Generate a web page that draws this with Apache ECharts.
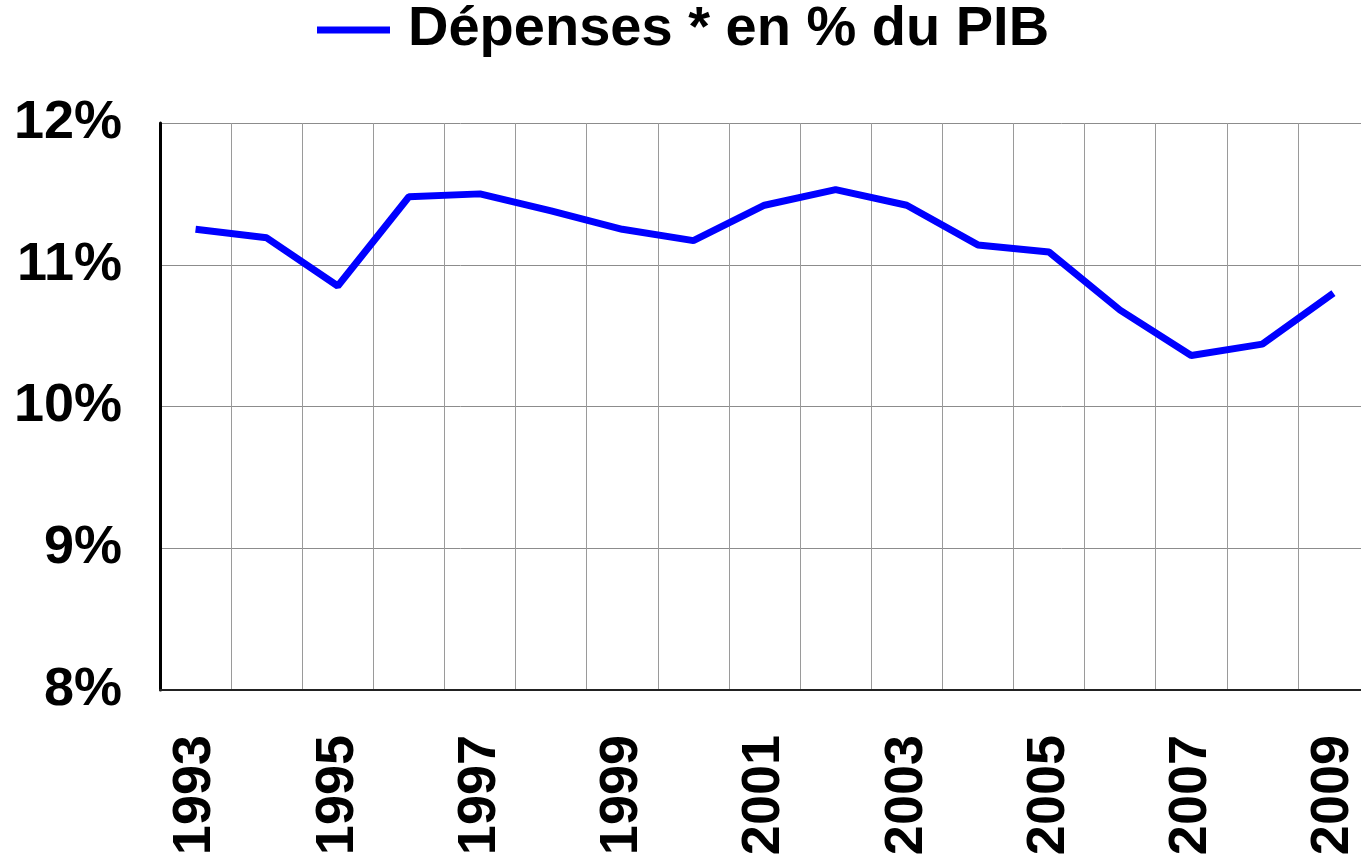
<!DOCTYPE html>
<html>
<head>
<meta charset="utf-8">
<script src="https://cdn.jsdelivr.net/npm/echarts@6/dist/echarts.min.js"></script>
<style>
html,body{margin:0;padding:0;background:#fff;}
#chart{width:1361px;height:858px;}
</style>
</head>
<body>
<div id="chart"></div>
<script>
var years = ['1993','1994','1995','1996','1997','1998','1999','2000','2001','2002','2003','2004','2005','2006','2007','2008','2009'];
var depensesPctPIB = [11.25, 11.19, 10.85, 11.48, 11.50, 11.38, 11.25, 11.17, 11.42, 11.53, 11.42, 11.14, 11.09, 10.68, 10.36, 10.44, 10.80];
var seriesName = 'Dépenses * en % du PIB';
var yMin = 8, yMax = 12, yStep = 1;

var chart = echarts.init(document.getElementById('chart'), null, {renderer: 'canvas'});
chart.setOption({
  animation: false,
  backgroundColor: '#ffffff',
  textStyle: {fontFamily: '"Liberation Sans", Arial, sans-serif'},
  legend: {
    show: true,
    left: 317,
    top: -1,
    padding: 0,
    icon: 'rect',
    itemWidth: 73,
    itemHeight: 7,
    textStyle: {
      fontSize: 56,
      fontWeight: 'bold',
      color: '#000',
      lineHeight: 62,
      padding: [0, 0, 0, 13],
      fontFamily: '"Liberation Sans", Arial, sans-serif'
    },
    data: [seriesName]
  },
  grid: {left: 160, top: 123, width: 1209, height: 567, containLabel: false, outerBoundsMode: 'none'},
  xAxis: {
    type: 'category',
    data: years,
    boundaryGap: true,
    axisLine: {show: true, lineStyle: {color: '#222', width: 2}},
    axisTick: {show: false},
    axisLabel: {
      interval: 1,
      rotate: 90,
      margin: 45,
      fontSize: 54,
      fontWeight: 'bold',
      color: '#000',
      fontFamily: '"Liberation Sans", Arial, sans-serif'
    },
    splitLine: {show: true, interval: 0, lineStyle: {color: '#9a9a9a', width: 1}}
  },
  yAxis: {
    type: 'value',
    min: yMin,
    max: yMax,
    interval: yStep,
    axisLine: {show: true, lineStyle: {color: '#000', width: 3}},
    axisTick: {show: false},
    axisLabel: {
      formatter: '{value}%',
      margin: 38,
      fontSize: 54,
      fontWeight: 'bold',
      color: '#000',
      fontFamily: '"Liberation Sans", Arial, sans-serif'
    },
    splitLine: {show: true, lineStyle: {color: '#8c8c8c', width: 1}}
  },
  series: [{
    name: seriesName,
    type: 'line',
    data: depensesPctPIB,
    symbol: 'none',
    lineStyle: {color: '#0000ff', width: 7},
    itemStyle: {color: '#0000ff'}
  }]
});
</script>
</body>
</html>
